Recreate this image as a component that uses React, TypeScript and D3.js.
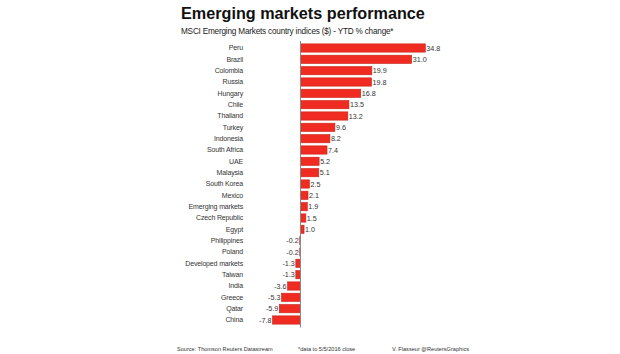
import React from "react";
import * as d3 from "d3";

const categories = ["Peru","Brazil","Colombia","Russia","Hungary","Chile","Thailand","Turkey","Indonesia","South Africa","UAE","Malaysia","South Korea","Mexico","Emerging markets","Czech Republic","Egypt","Philippines","Poland","Developed markets","Taiwan","India","Greece","Qatar","China"];
const values = [34.8,31.0,19.9,19.8,16.8,13.5,13.2,9.6,8.2,7.4,5.2,5.1,2.5,2.1,1.9,1.5,1.0,-0.2,-0.2,-1.3,-1.3,-3.6,-5.3,-5.9,-7.8];
const title = "Emerging markets performance";
const subtitle = "MSCI Emerging Markets country indices ($) - YTD % change*";
const footnotes = ["Source: Thomson Reuters Datastream", "*data to 5/5/2016 close", "V. Flasseur @ReutersGraphics"];

const fmt = (v: number) => d3.format(".1f")(v).replace("\u2212", "-");

export default function App() {
  const W = 620, H = 354;
  const x = d3.scaleLinear().domain([-7.8, 34.8]).range([272.5, 425.3]);
  const y = d3.scaleBand().domain(categories).range([42.5, 325.5]).paddingInner(0.27).paddingOuter(0.12);
  const font = "'Liberation Sans', Arial, sans-serif";
  return (
    <svg width={W} height={H} style={{ position: "absolute", left: 0, top: 0, background: "#fff" }} fontFamily={font}>
      <text x={181} y={19} fontSize={16.2} fontWeight="bold" fill="#111">{title}</text>
      <text x={181} y={33.5} fontSize={8.2} fill="#222" letterSpacing={-0.2}>{subtitle}</text>
      {categories.map((c, i) => {
        const v = values[i];
        const x0 = x(Math.min(0, v));
        const x1 = x(Math.max(0, v));
        const yy = y(c)!;
        const cy = yy + y.bandwidth() / 2;
        return (
          <g key={c}>
            <text x={243} y={cy} dy="0.35em" fontSize={7} textAnchor="end" fill="#333" letterSpacing={-0.15}>{c}</text>
            <rect x={x0} y={yy} width={Math.max(0, x1 - x0)} height={y.bandwidth()} fill="#f02b22" stroke="#c8231b" strokeWidth={0.6} />
            <text x={v >= 0 ? x1 + 1 : x0 - 1} y={cy} dy="0.35em" fontSize={7.2} textAnchor={v >= 0 ? "start" : "end"} fill="#333">{fmt(v)}</text>
          </g>
        );
      })}
      <line x1={x(0)} x2={x(0)} y1={41} y2={327.5} stroke="#888" strokeWidth={1} />
      <text x={177} y={351} fontSize={5.6} fill="#333">{footnotes[0]}</text>
      <text x={298} y={351} fontSize={5.6} fill="#333">{footnotes[1]}</text>
      <text x={392} y={351} fontSize={5.6} fill="#333">{footnotes[2]}</text>
    </svg>
  );
}
